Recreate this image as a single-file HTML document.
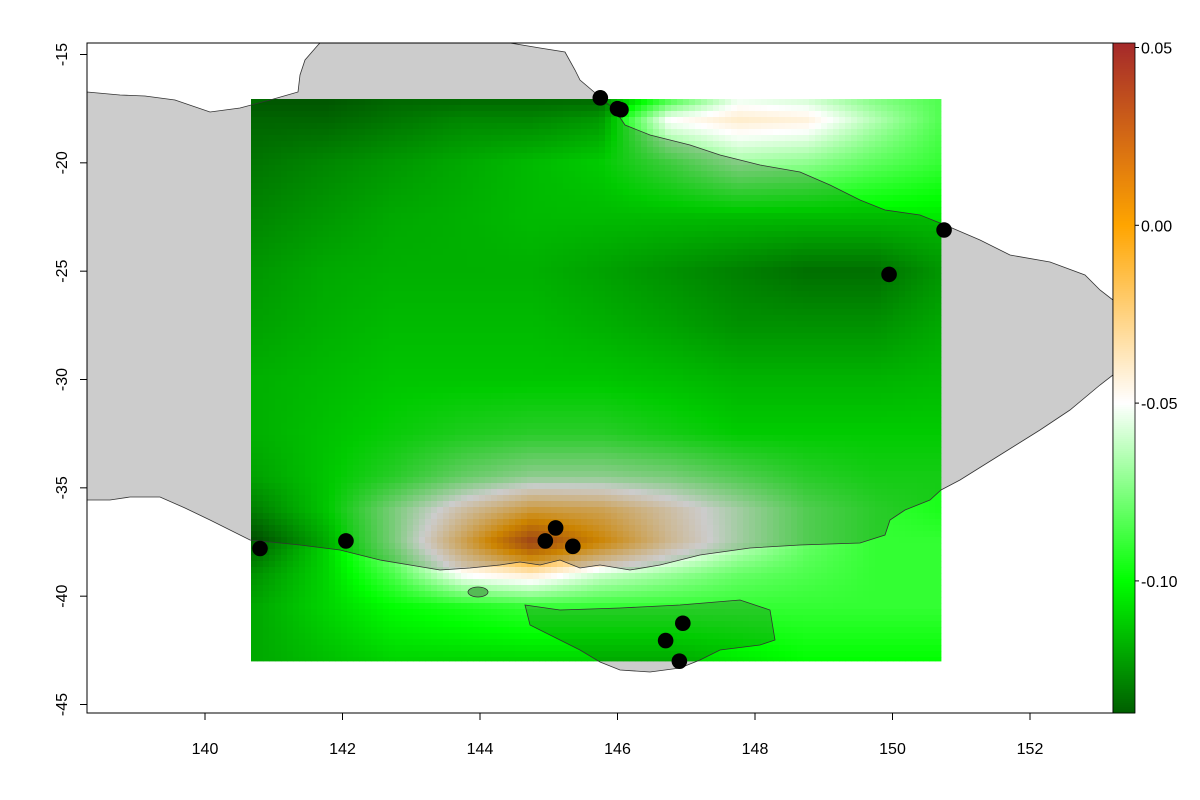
<!DOCTYPE html>
<html><head><meta charset="utf-8"><style>
body{margin:0;background:#fff;}
#wrap{position:relative;width:1200px;height:800px;font-family:"Liberation Sans",sans-serif;}
svg{position:absolute;left:0;top:0;}
text{font-family:"Liberation Sans",sans-serif;font-size:16px;fill:#000;}
</style></head><body>
<div id="wrap">
<svg id="s" width="1200" height="800"></svg>
</div>
<script>
const lons=[140.75,141.75,142.75,143.75,144.75,145.75,146.75,147.75,148.75,149.75,150.75];
const lats=[-17,-18,-20,-22.5,-25,-27.5,-30,-32.5,-34.5,-36,-37.5,-39,-40.5,-43];
const gridValues=[
[-0.135,-0.135,-0.13,-0.13,-0.13,-0.13,-0.09,-0.055,-0.06,-0.075,-0.085],
[-0.13,-0.13,-0.125,-0.12,-0.12,-0.115,-0.05,-0.04,-0.043,-0.065,-0.085],
[-0.125,-0.12,-0.115,-0.11,-0.105,-0.1,-0.085,-0.068,-0.072,-0.082,-0.09],
[-0.12,-0.115,-0.11,-0.108,-0.105,-0.105,-0.105,-0.105,-0.105,-0.105,-0.105],
[-0.115,-0.11,-0.108,-0.108,-0.108,-0.112,-0.117,-0.122,-0.127,-0.127,-0.115],
[-0.112,-0.108,-0.105,-0.105,-0.105,-0.108,-0.112,-0.117,-0.117,-0.117,-0.11],
[-0.108,-0.105,-0.102,-0.102,-0.102,-0.102,-0.104,-0.107,-0.107,-0.107,-0.105],
[-0.108,-0.103,-0.098,-0.093,-0.09,-0.09,-0.095,-0.1,-0.1,-0.1,-0.1],
[-0.112,-0.102,-0.09,-0.075,-0.065,-0.065,-0.07,-0.08,-0.09,-0.095,-0.095],
[-0.122,-0.102,-0.07,-0.04,-0.015,-0.02,-0.04,-0.06,-0.08,-0.09,-0.095],
[-0.137,-0.11,-0.07,-0.02,0.035,0.0,-0.035,-0.06,-0.08,-0.09,-0.09],
[-0.125,-0.11,-0.085,-0.05,-0.04,-0.06,-0.07,-0.08,-0.085,-0.09,-0.09],
[-0.12,-0.11,-0.1,-0.095,-0.09,-0.09,-0.09,-0.09,-0.09,-0.09,-0.09],
[-0.12,-0.115,-0.11,-0.11,-0.11,-0.11,-0.11,-0.105,-0.1,-0.1,-0.1]];
const stationLon=[145.75,146.0,146.05,150.75,149.95,140.8,142.05,145.1,144.95,145.35,146.95,146.7,146.9];
const stationLat=[-17.0,-17.5,-17.55,-23.1,-25.15,-37.8,-37.45,-36.85,-37.45,-37.7,-41.25,-42.05,-43.0];
const xTicks=[140,142,144,146,148,150,152];
const yTicks=[-15,-20,-25,-30,-35,-40,-45];
const cbTicks=[0.05,0.00,-0.05,-0.10];
const cbTickLabels=["0.05","0.00","-0.05","-0.10"];

const X=l=>205+(l-140)*68.75;
const Y=l=>54.5+(-15-l)*21.667;
const CB=v=>47.5+(0.05-v)*3556;
const stops=[[-0.137,[0,95,0]],[-0.10,[0,255,0]],[-0.05,[255,255,255]],[0.0,[255,165,0]],[0.051,[165,42,42]]];
function col(v){if(v<=stops[0][0])return stops[0][1];for(let i=1;i<stops.length;i++){if(v<=stops[i][0]){const a=stops[i-1],b=stops[i],t=(v-a[0])/(b[0]-a[0]);return a[1].map((c,k)=>Math.round(c+(b[1][k]-c)*t));}}return stops[stops.length-1][1];}
const NS='http://www.w3.org/2000/svg';const s=document.getElementById('s');
function el(t,a,p){const e=document.createElementNS(NS,t);for(const k in a)e.setAttribute(k,a[k]);(p||s).appendChild(e);return e;}
const clip=el('clipPath',{id:'pc'});el('rect',{x:87,y:43,width:1026,height:670},clip);
const g=el('g',{'clip-path':'url(#pc)'});

const mainland="87,92 120,95 145,96 175,100 210,112 240,108 270,100 298,92 300,75 305,60 318,45 320,43 510,43 540,48 565,52 575,70 580,80 600,97 615,110 625,125 650,135 690,145 720,155 760,165 800,172 830,185 860,200 885,210 920,215 945,225 980,240 1010,255 1050,262 1085,275 1100,290 1113,300 1113,375 1100,385 1070,410 1040,430 1000,455 960,480 941,490 930,500 905,510 890,520 885,535 860,543 800,545 750,548 700,555 660,565 630,570 600,565 580,568 560,560 540,565 520,562 500,565 470,568 440,570 410,565 380,560 340,550 300,545 250,540 210,520 185,508 160,497 130,497 110,500 87,500";
const tas="525,605 560,610 620,608 680,605 740,600 770,610 775,640 760,645 720,650 700,660 680,668 650,672 620,670 600,662 580,650 560,640 530,625";
const m=el('polygon',{points:mainland,fill:'#cccccc',stroke:'none'},g);
const t=el('polygon',{points:tas,fill:'#cccccc',stroke:'none'},g);
const hm=el('g',{style:'mix-blend-mode:multiply'},g);
function interp(lo,la){let i=0;while(i<lons.length-2&&lo>lons[i+1])i++;let j=0;while(j<lats.length-2&&la<lats[j+1])j++;
const tx=Math.min(1,Math.max(0,(lo-lons[i])/(lons[i+1]-lons[i]))),ty=Math.min(1,Math.max(0,(la-lats[j])/(lats[j+1]-lats[j])));
const a=gridValues[j][i],b=gridValues[j][i+1],c=gridValues[j+1][i],d=gridValues[j+1][i+1];
return a*(1-tx)*(1-ty)+b*tx*(1-ty)+c*(1-tx)*ty+d*tx*ty;}
const x0=251,x1=941,y0=99,y1=661;
const step=6;
for(let py=y0;py<y1;py+=step){for(let px=x0;px<x1;px+=step){const lo=140+(px+step/2-205)/68.75,la=-15-(py+step/2-54.5)/21.667;const c=col(interp(lo,la));
el('rect',{x:px,y:py,width:Math.min(step,x1-px)+0.4,height:Math.min(step,y1-py)+0.4,fill:`rgb(${c})`},hm);}}
el('polygon',{points:mainland,fill:'none',stroke:'#333','stroke-width':0.8},g);
el('polygon',{points:tas,fill:'none',stroke:'#333','stroke-width':0.8},g);
el('ellipse',{cx:478,cy:592,rx:10,ry:5,fill:'#55bb55',stroke:'#333','stroke-width':0.8},g);
for(let k=0;k<stationLon.length;k++){const c=el('circle',{cx:X(stationLon[k]),cy:Y(stationLat[k]),r:7.8,fill:'#000'},g);
}
el('rect',{x:87,y:43,width:1026,height:670,fill:'none',stroke:'#000','stroke-width':1});
xTicks.forEach(v=>{el('line',{x1:X(v),x2:X(v),y1:713,y2:720,stroke:'#000'});const tx=el('text',{x:X(v),y:754,'text-anchor':'middle'});tx.textContent=v;});
yTicks.forEach(v=>{el('line',{x1:80,x2:87,y1:Y(v),y2:Y(v),stroke:'#000'});const tx=el('text',{x:0,y:0,'text-anchor':'middle',transform:`translate(67,${Y(v)}) rotate(-90)`});tx.textContent=v;});
const cb=el('g',{});
for(let py=43;py<713;py+=2){const v=0.05-(py+1-47.5)/3556;el('rect',{x:1113,y:py,width:22,height:2.5,fill:`rgb(${col(v)})`},cb);}
el('rect',{x:1113,y:43,width:22,height:670,fill:'none',stroke:'#000','stroke-width':0.8},cb);
cbTicks.forEach((v,i)=>{el('line',{x1:1135,x2:1139,y1:CB(v),y2:CB(v),stroke:'#000'},cb);const tx=el('text',{x:1141,y:CB(v)+6},cb);tx.textContent=cbTickLabels[i];});
</script>
</body></html>
